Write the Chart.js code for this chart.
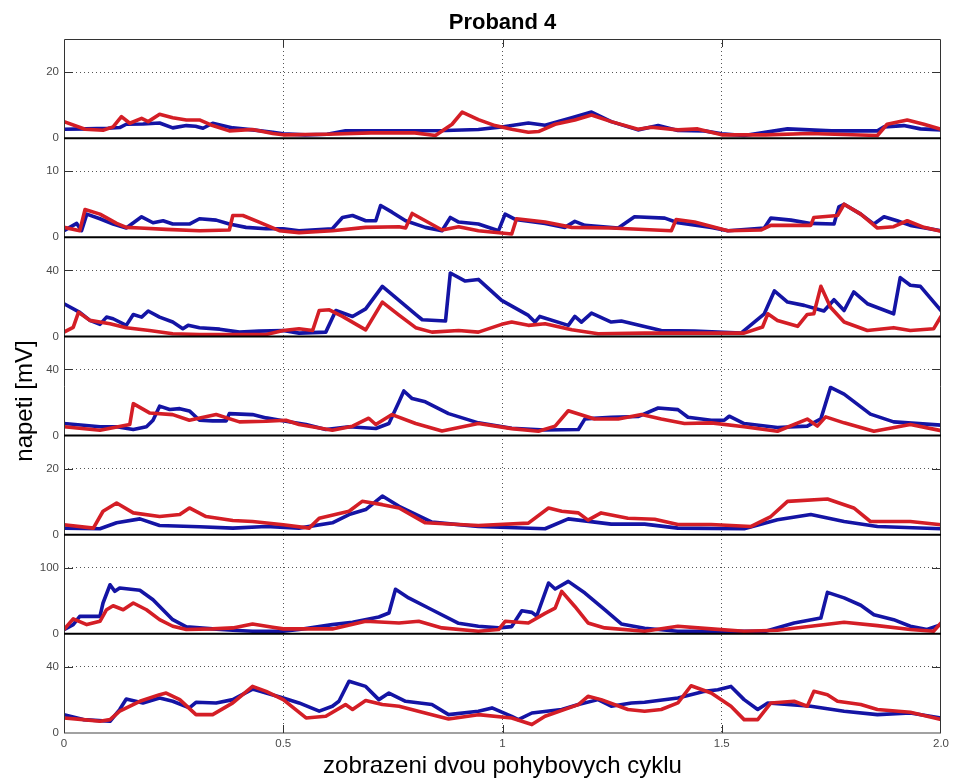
<!DOCTYPE html>
<html>
<head>
<meta charset="utf-8">
<script src="https://cdn.jsdelivr.net/npm/chart.js@4.4.1/dist/chart.umd.min.js"></script>
<style>
html,body{margin:0;padding:0;background:#fff;}
canvas{display:block;}
</style>
</head>
<body>
<canvas id="c" width="953" height="778"></canvas>
<script>
// ---- data (x in cycles, y in mV) ----
const xTicks = [0, 0.5, 1, 1.5, 2];
const xTickLabels = ['0', '0.5', '1', '1.5', '2.0'];
const panelMax = [30, 15, 60, 60, 30, 150, 60];
const panelTick = [20, 10, 40, 40, 20, 100, 40];

const blue1 = [[0,2.7],[0.05,2.8],[0.1,3],[0.127,3.2],[0.142,4.2],[0.18,4.3],[0.218,4.6],[0.248,3.1],[0.279,3.8],[0.3,3.6],[0.317,3],[0.339,4.5],[0.385,3.1],[0.43,2.5],[0.476,1.8],[0.5,1.3],[0.55,1],[0.6,1.2],[0.642,2.2],[0.75,2.2],[0.87,2.3],[0.945,2.6],[0.998,3.4],[1.059,4.6],[1.097,3.9],[1.158,6.2],[1.203,7.9],[1.248,5],[1.309,2.5],[1.355,3.8],[1.4,2.3],[1.46,2.2],[1.5,1.3],[1.551,0.8],[1.65,2.8],[1.75,2.2],[1.855,2.2],[1.87,3.4],[1.915,3.8],[1.953,2.8],[2.0,2.5]];
const red1 = [[0,5],[0.048,2.7],[0.089,2.4],[0.112,3.4],[0.131,6.5],[0.15,4.5],[0.177,6],[0.192,5],[0.218,7.2],[0.248,6.2],[0.279,5.5],[0.309,5.5],[0.339,3.8],[0.377,2.2],[0.43,2.6],[0.476,1.4],[0.5,1],[0.6,1.2],[0.7,1.6],[0.8,1.6],[0.847,0.8],[0.885,4.2],[0.908,7.9],[0.945,5.6],[0.983,3.8],[1.021,2.7],[1.059,1.8],[1.082,2],[1.12,4.2],[1.165,5.5],[1.203,7],[1.248,5],[1.309,2.7],[1.339,3.3],[1.4,2.5],[1.445,2.8],[1.5,1],[1.6,1],[1.7,1.4],[1.855,0.8],[1.877,4.2],[1.923,5.5],[1.961,4.2],[2.0,2.7]];

const blue2 = [[0,1],[0.029,2.1],[0.04,1],[0.052,3.5],[0.082,2.8],[0.112,2],[0.142,1.4],[0.177,3.1],[0.203,2.2],[0.226,2.5],[0.248,2],[0.286,2],[0.309,2.8],[0.347,2.6],[0.377,2],[0.415,1.5],[0.461,1.3],[0.5,1.3],[0.536,1],[0.612,1.3],[0.635,3],[0.658,3.3],[0.688,2.5],[0.711,2.5],[0.722,4.8],[0.748,3.8],[0.779,2.5],[0.824,1.5],[0.862,1],[0.881,3],[0.9,2.3],[0.945,2.0],[0.991,1],[1.006,3.5],[1.029,2.7],[1.097,2.1],[1.142,1.5],[1.165,2.4],[1.188,1.8],[1.264,1.4],[1.301,3.1],[1.37,2.9],[1.4,2.2],[1.476,1.5],[1.514,1],[1.597,1.4],[1.612,2.9],[1.658,2.6],[1.703,2.1],[1.756,2],[1.767,4.6],[1.779,5],[1.817,3.5],[1.847,2],[1.87,3.1],[1.9,2.5],[1.93,1.8],[2.0,1]];
const red2 = [[0,1.5],[0.036,1],[0.048,4.2],[0.082,3.5],[0.12,2.1],[0.142,1.5],[0.173,1.4],[0.233,1.2],[0.309,1],[0.377,1.1],[0.385,3.3],[0.408,3.3],[0.445,2.3],[0.491,1],[0.536,0.7],[0.612,1],[0.688,1.5],[0.764,1.6],[0.779,1.4],[0.794,3.6],[0.824,2.5],[0.862,1.1],[0.9,1.6],[0.945,1],[1.021,0.5],[1.032,2.8],[1.097,2.3],[1.158,1.5],[1.248,1.4],[1.385,1],[1.396,2.7],[1.438,2.3],[1.514,1],[1.589,1.1],[1.612,1.8],[1.703,1.8],[1.71,3],[1.764,3.3],[1.779,5],[1.817,3.5],[1.855,1.4],[1.892,1.6],[1.923,2.5],[1.961,1.5],[2.0,0.9]];

const blue3 = [[0,19.8],[0.036,14.6],[0.059,9.7],[0.082,7.3],[0.097,11.7],[0.112,10.7],[0.142,6.7],[0.158,13.3],[0.177,11.7],[0.192,15.4],[0.218,11.7],[0.248,8.7],[0.271,4.7],[0.283,6.7],[0.309,5.3],[0.355,4.4],[0.4,2.6],[0.445,3.2],[0.5,3.6],[0.536,2],[0.597,2.6],[0.62,15.7],[0.658,12.1],[0.688,16.7],[0.726,30.3],[0.764,21.8],[0.802,13.3],[0.817,10.1],[0.87,9.3],[0.881,38.4],[0.915,33.5],[0.945,34.5],[0.998,21.8],[1.059,12.7],[1.074,8.7],[1.085,12.1],[1.15,6.7],[1.165,12.1],[1.18,8.7],[1.203,14.1],[1.248,8.7],[1.271,9.3],[1.362,3.6],[1.438,3.2],[1.544,2],[1.597,13.7],[1.62,27.5],[1.65,20.8],[1.688,18.8],[1.733,15.4],[1.756,22.2],[1.779,15.7],[1.801,26.9],[1.832,19.8],[1.892,13.7],[1.907,35.6],[1.93,31],[1.953,30.3],[2.0,15.7]];
const red3 = [[0,2.6],[0.021,5.5],[0.033,14.6],[0.059,9.7],[0.105,7.7],[0.142,5.3],[0.195,3.6],[0.248,1.6],[0.309,1.2],[0.461,1.2],[0.5,3.6],[0.536,4.6],[0.567,3.6],[0.582,15.7],[0.605,16.1],[0.635,12.1],[0.688,4],[0.726,20.8],[0.764,12.9],[0.802,5.3],[0.839,2.6],[0.9,3.6],[0.945,2.6],[0.998,7.3],[1.021,8.7],[1.059,6.7],[1.097,7.7],[1.158,4],[1.218,1.6],[1.324,2],[1.551,2],[1.593,5.7],[1.605,13.7],[1.627,9.7],[1.673,6.1],[1.695,13.3],[1.71,13.7],[1.726,30.3],[1.748,17.7],[1.779,8.7],[1.832,3.6],[1.892,5.3],[1.93,3.6],[1.983,4.6],[2.0,12.1]];

const blue4 = [[0,7.3],[0.082,5.3],[0.12,5.3],[0.158,3.7],[0.188,5.3],[0.203,9.3],[0.218,17.8],[0.241,15.8],[0.264,16.3],[0.286,14.9],[0.309,9.3],[0.339,8.9],[0.37,8.9],[0.377,13.3],[0.43,12.7],[0.461,10.7],[0.506,8.7],[0.552,6.7],[0.597,3.7],[0.65,5.3],[0.711,4.3],[0.741,7.3],[0.764,20.4],[0.775,27],[0.794,22.4],[0.824,20.4],[0.877,13.3],[0.945,7.7],[1.021,4.4],[1.097,3.4],[1.173,3.7],[1.188,10.1],[1.248,11.1],[1.309,11.5],[1.355,16.7],[1.4,15.7],[1.423,11.1],[1.476,9.3],[1.506,9.3],[1.517,11.7],[1.551,7.3],[1.627,4.9],[1.695,5.7],[1.726,10.1],[1.748,29.1],[1.779,25.1],[1.839,13],[1.892,8.3],[2.0,6.3]];
const red4 = [[0,5.3],[0.082,3.2],[0.15,6.7],[0.158,19.3],[0.195,13.7],[0.248,12.7],[0.286,9.3],[0.347,12.7],[0.4,8.3],[0.461,8.7],[0.506,9.3],[0.536,6.7],[0.612,3.2],[0.658,5.7],[0.695,10.5],[0.711,6.7],[0.748,12.7],[0.802,7.3],[0.862,2.8],[0.945,7.3],[1.021,4.2],[1.082,2.6],[1.12,5.7],[1.15,15],[1.21,10],[1.264,10],[1.317,12.7],[1.362,10],[1.415,7.3],[1.476,7.7],[1.551,5.3],[1.627,2.6],[1.695,10],[1.718,5.7],[1.737,11.3],[1.779,7.7],[1.847,2.6],[1.93,6.7],[2.0,3]];

const blue5 = [[0,2],[0.082,1.8],[0.12,3.6],[0.173,4.8],[0.218,2.8],[0.309,2.4],[0.385,2],[0.461,2.5],[0.536,2],[0.612,3.6],[0.65,6.1],[0.688,7.6],[0.726,11.7],[0.764,8.6],[0.839,3.8],[0.945,2.5],[1.097,1.8],[1.15,4.8],[1.248,3.2],[1.324,3.2],[1.4,2],[1.551,1.8],[1.627,4.5],[1.703,6.1],[1.779,4],[1.855,2.5],[2.0,1.8]];
const red5 = [[0,3],[0.067,2],[0.089,7.1],[0.12,9.6],[0.158,6.6],[0.218,5.5],[0.264,6.1],[0.286,8.1],[0.324,5.5],[0.385,4.3],[0.43,4],[0.5,3],[0.559,2],[0.582,5],[0.65,7.1],[0.68,10.1],[0.726,9.1],[0.764,8.1],[0.824,3.6],[0.945,2.8],[1.059,3.5],[1.105,8.1],[1.135,7.1],[1.173,6.6],[1.195,4.4],[1.225,6.6],[1.286,5],[1.347,4.7],[1.4,3.1],[1.476,3.1],[1.567,2.5],[1.612,5.5],[1.65,10.1],[1.741,10.8],[1.801,8.1],[1.839,4],[1.93,4],[2.0,3]];

const blue6 = [[0,6.5],[0.021,14],[0.036,26.5],[0.082,26.5],[0.089,46.7],[0.105,74.3],[0.116,64.3],[0.127,69.3],[0.173,66],[0.203,51.7],[0.248,21.5],[0.279,10.5],[0.339,7.5],[0.385,5.5],[0.43,4],[0.5,4],[0.536,6.5],[0.612,14],[0.658,17.5],[0.718,25.5],[0.741,31.5],[0.756,67.5],[0.786,54.4],[0.839,36.5],[0.9,16],[0.945,11.5],[0.991,9],[1.021,11],[1.044,35],[1.067,32.5],[1.078,27],[1.105,76.9],[1.12,67.9],[1.15,79.4],[1.188,61.8],[1.233,36.5],[1.271,15],[1.324,8.5],[1.4,4],[1.6,4],[1.665,16.5],[1.726,24],[1.741,62.8],[1.779,54.4],[1.817,43.3],[1.847,29],[1.892,21.5],[1.93,11.5],[1.968,6.5],[2.0,14]];
const red6 = [[0,6.5],[0.021,22.7],[0.052,14],[0.082,19],[0.097,36.5],[0.112,42.5],[0.135,36.5],[0.158,46.7],[0.188,36.5],[0.218,21.5],[0.248,11.5],[0.279,6.5],[0.339,7.5],[0.385,9],[0.43,15],[0.476,10],[0.5,7.5],[0.612,7.5],[0.688,19],[0.764,16.5],[0.809,19],[0.862,9],[0.945,4],[0.991,6.5],[1.006,19],[1.059,16.5],[1.097,31],[1.12,39],[1.135,64.3],[1.165,41.4],[1.195,16.5],[1.233,9],[1.324,4],[1.4,11.5],[1.476,7.5],[1.551,4],[1.627,5.5],[1.703,11.5],[1.779,17.5],[1.855,12.5],[1.93,6.5],[1.983,4],[2.0,16.5]];

const blue7 = [[0,11.1],[0.044,8.1],[0.105,7.1],[0.127,14.2],[0.142,20.6],[0.18,18.2],[0.218,21.2],[0.248,19.2],[0.286,15.2],[0.301,18.6],[0.347,18.2],[0.385,20.2],[0.43,26.6],[0.461,24.2],[0.5,21.2],[0.536,18.2],[0.582,13.2],[0.612,16.2],[0.627,19.2],[0.65,31.3],[0.688,28.2],[0.718,20.2],[0.741,24.2],[0.779,19.2],[0.839,17.2],[0.877,11.1],[0.945,13.2],[0.976,15.2],[1.021,10.1],[1.036,8.1],[1.067,12.1],[1.135,14.2],[1.173,17.2],[1.218,20.2],[1.248,16.2],[1.294,18.2],[1.324,18.6],[1.4,21.2],[1.461,25.2],[1.491,26.2],[1.521,28.2],[1.551,20.2],[1.582,14.2],[1.605,18.2],[1.703,16.2],[1.779,13.2],[1.855,11.1],[1.93,12.1],[2.0,9.1]];
const red7 = [[0,9.1],[0.044,8.1],[0.082,7.1],[0.105,8.1],[0.127,13.2],[0.173,19.2],[0.218,23.2],[0.233,24.2],[0.264,20.2],[0.301,11.1],[0.339,11.1],[0.385,18.2],[0.43,28.2],[0.461,25.2],[0.5,20.2],[0.552,9.1],[0.597,10.1],[0.642,17.2],[0.658,14.2],[0.688,19.6],[0.726,17.2],[0.764,16.2],[0.839,11.1],[0.877,8.5],[0.945,11.1],[1.021,9.1],[1.067,5.1],[1.097,10.1],[1.173,17.2],[1.195,22.2],[1.225,20.2],[1.286,14.2],[1.324,13.2],[1.362,14.2],[1.4,18.2],[1.43,28.6],[1.476,24.2],[1.521,16.2],[1.551,8.1],[1.582,8.1],[1.612,18.2],[1.665,19.2],[1.695,16.2],[1.71,25.2],[1.741,23.2],[1.764,19.2],[1.817,17.2],[1.855,14.2],[1.93,12.6],[2.0,8.1]];

const blueSeries = [blue1, blue2, blue3, blue4, blue5, blue6, blue7];
const redSeries = [red1, red2, red3, red4, red5, red6, red7];

const titleText = 'Proband 4';
const xLabel = 'zobrazeni dvou pohybovych cyklu';
const yLabel = 'napeti [mV]';

// ---- styles ----
const BLUE = '#1414a4';
const RED = '#d41e26';
const FONT = "'Liberation Sans', Arial, sans-serif";

const toPts = arr => arr.map(p => ({x: p[0], y: p[1]}));

const lineStyle = {borderWidth: 3.6, pointRadius: 0, tension: 0, fill: false,
  borderJoinStyle: 'round', borderCapStyle: 'round'};

const datasets = [];
redSeries.forEach((s, i) => datasets.push(Object.assign({
  data: toPts(s), yAxisID: 'p' + (i + 1), borderColor: RED
}, lineStyle)));
blueSeries.forEach((s, i) => datasets.push(Object.assign({
  data: toPts(s), yAxisID: 'p' + (i + 1), borderColor: BLUE
}, lineStyle)));

const scales = {
  x: {
    type: 'linear', min: 0, max: 2, position: 'bottom',
    afterBuildTicks: s => { s.ticks = xTicks.map(v => ({value: v})); },
    afterFit: s => { s.height = 45; },
    ticks: {
      callback: (v) => xTickLabels[xTicks.indexOf(v)] ?? '',
      font: {family: FONT, size: 11.5}, color: '#4a4a4a', padding: 4, maxRotation: 0
    },
    grid: {
      drawTicks: false,
      color: c => (c.tick && (c.tick.value === 0 || c.tick.value === 2)) ? 'rgba(0,0,0,0)' : '#555',
      lineWidth: 1
    },
    border: {display: false, dash: [1, 3]}
  }
};
// define bottom panel first so the top panel ends up on top of the stack
for (let i = 7; i >= 1; i--) {
  const mx = panelMax[i - 1], tk = panelTick[i - 1];
  scales['p' + i] = {
    type: 'linear', position: 'left', stack: 'panels', stackWeight: 1,
    min: 0, max: mx,
    afterBuildTicks: s => { s.ticks = [{value: 0}, {value: tk}]; },
    afterFit: s => { s.width = 64; },
    ticks: {
      callback: v => String(v),
      font: {family: FONT, size: 11.5}, color: '#4a4a4a', padding: 5
    },
    grid: {
      drawTicks: false,
      color: c => (c.tick && c.tick.value === 0) ? 'rgba(0,0,0,0)' : '#555',
      lineWidth: 1
    },
    border: {display: false, dash: [1, 3]}
  };
}

const framePlugin = {
  id: 'frame',
  afterDatasetsDraw(chart) {
    const ctx = chart.ctx, a = chart.chartArea;
    ctx.save();
    ctx.strokeStyle = '#333';
    ctx.lineWidth = 1;
    ctx.beginPath();
    ctx.moveTo(a.left + 0.5, a.bottom);
    ctx.lineTo(a.left + 0.5, a.top + 0.5);
    ctx.lineTo(a.right - 0.5, a.top + 0.5);
    ctx.lineTo(a.right - 0.5, a.bottom);
    ctx.stroke();
    for (let i = 1; i <= 7; i++) {
      const sc = chart.scales['p' + i];
      const y = sc.getPixelForValue(0);
      ctx.strokeStyle = i === 7 ? '#444' : '#000';
      ctx.lineWidth = i === 7 ? 1.2 : 2;
      ctx.beginPath();
      ctx.moveTo(a.left, y);
      ctx.lineTo(a.right, y);
      ctx.stroke();
      const yt = Math.round(sc.getPixelForValue(panelTick[i - 1])) + 0.5;
      ctx.strokeStyle = '#333';
      ctx.lineWidth = 1;
      ctx.beginPath();
      ctx.moveTo(a.left, yt); ctx.lineTo(a.left + 9, yt);
      ctx.moveTo(a.right - 9, yt); ctx.lineTo(a.right, yt);
      ctx.stroke();
    }
    const xs = chart.scales.x;
    ctx.beginPath();
    xTicks.slice(1, -1).forEach(v => {
      const x = Math.round(xs.getPixelForValue(v)) + 0.5;
      ctx.moveTo(x, a.top); ctx.lineTo(x, a.top + 8);
      ctx.moveTo(x, a.bottom); ctx.lineTo(x, a.bottom - 8);
    });
    ctx.stroke();
    ctx.restore();
  },
  afterDraw(chart) {
    const ctx = chart.ctx, a = chart.chartArea;
    const cx = (a.left + a.right) / 2;
    ctx.save();
    ctx.fillStyle = '#000';
    ctx.textAlign = 'center';
    ctx.textBaseline = 'alphabetic';
    ctx.font = 'bold 22px ' + FONT;
    ctx.fillText(titleText, cx, 29);
    ctx.font = '24px ' + FONT;
    ctx.fillText(xLabel, cx, 773);
    ctx.translate(32, 401);
    ctx.rotate(-Math.PI / 2);
    ctx.fillText(yLabel, 0, 0);
    ctx.restore();
  }
};

new Chart(document.getElementById('c'), {
  type: 'line',
  data: {datasets},
  options: {
    responsive: false,
    animation: false,
    devicePixelRatio: 1,
    layout: {padding: {top: 39, left: 0, right: 9, bottom: 0}},
    plugins: {legend: {display: false}, tooltip: {enabled: false}, title: {display: false}},
    scales
  },
  plugins: [framePlugin]
});
</script>
</body>
</html>
